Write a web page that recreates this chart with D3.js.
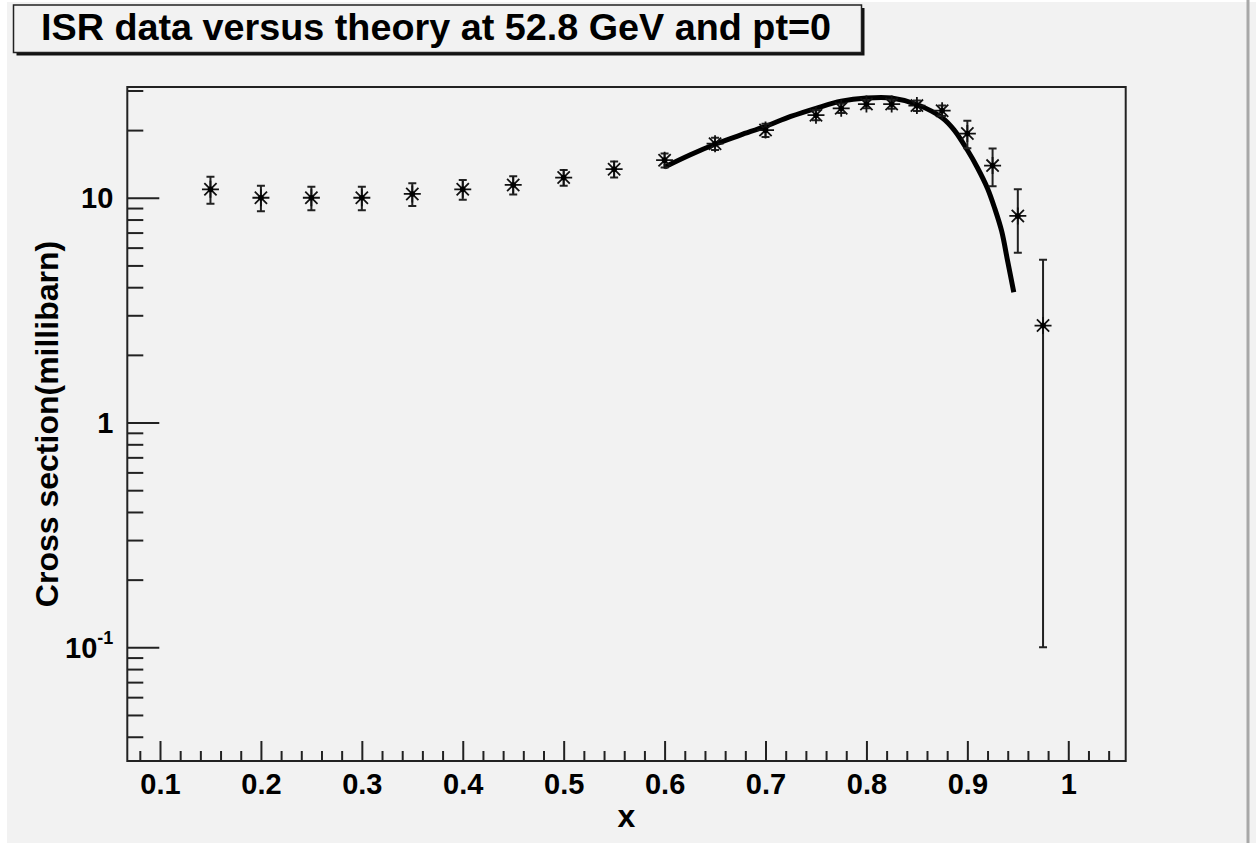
<!DOCTYPE html>
<html>
<head>
<meta charset="utf-8">
<script src="https://cdn.jsdelivr.net/npm/d3@7"></script>
<style>
  html, body { margin: 0; padding: 0; background: #ffffff; }
  svg { display: block; font-family: "Liberation Sans", Arial, sans-serif; font-weight: bold; }
</style>
</head>
<body>
<div id="chart"></div>
<script>
const titleText = "ISR data versus theory at 52.8 GeV and pt=0";
const xTitle = "x";
const yTitle = "Cross section(millibarn)";

// measured points
const dataX = [0.15, 0.2, 0.25, 0.3, 0.35, 0.4, 0.45, 0.5, 0.55, 0.6, 0.65, 0.7,
  0.75, 0.775, 0.8, 0.825, 0.85, 0.875, 0.9, 0.925, 0.95, 0.975];
const dataY = [10.9, 10.0, 10.0, 10.0, 10.4, 10.9, 11.4, 12.3, 13.4, 14.7, 17.4, 20.0,
  23.3, 25.0, 26.1, 26.1, 25.7, 24.4, 19.3, 13.9, 8.3, 2.7];
const dataErr = [1.5, 1.3, 1.2, 1.2, 1.2, 1.1, 1.05, 1.0, 1.1, 1.05, 1.1, 1.35,
  1.2, 1.2, 1.1, 1.2, 1.4, 1.3, 2.7, 2.65, 2.6, 2.6];

// theory curve
const theoryX = [0.6, 0.625, 0.65, 0.675, 0.7, 0.725, 0.75, 0.775, 0.8, 0.825, 0.85,
  0.875, 0.887, 0.9, 0.91, 0.92, 0.927, 0.934, 0.94, 0.946];
const theoryY = [13.7, 15.5, 17.3, 19.0, 20.8, 23.0, 25.0, 26.9, 27.8, 27.8, 26.0,
  22.7, 20.0, 16.3, 13.6, 11.0, 9.0, 7.1, 5.2, 3.8];

// axes
const xDomain = [0.0676, 1.0569];
const yDomain = [0.0312, 31.1];
const xMajorTicks = [0.1, 0.2, 0.3, 0.4, 0.5, 0.6, 0.7, 0.8, 0.9, 1];
const xMinorTicks = [0.08, 0.12, 0.14, 0.16, 0.18, 0.22, 0.24, 0.26, 0.28, 0.32, 0.34,
  0.36, 0.38, 0.42, 0.44, 0.46, 0.48, 0.52, 0.54, 0.56, 0.58, 0.62, 0.64, 0.66, 0.68,
  0.72, 0.74, 0.76, 0.78, 0.82, 0.84, 0.86, 0.88, 0.92, 0.94, 0.96, 0.98, 1.02, 1.04];
const yMajorTicks = [0.1, 1, 10];
const yMajorLabels = [["10", "-1"], ["1", ""], ["10", ""]];
const yMinorTicks = [0.04, 0.05, 0.06, 0.07, 0.08, 0.09, 0.2, 0.3, 0.4, 0.5, 0.6, 0.7,
  0.8, 0.9, 2, 3, 4, 5, 6, 7, 8, 9, 20, 30];

class IsrChart {
  constructor({ el }) {
    this.el = el;
    this.init();
  }

  init() {
    this.width = 1256;
    this.height = 843;
    this.frame = { left: 127.3, right: 1125.7, top: 87, bottom: 761 };

    this.x = d3.scaleLinear().domain(xDomain).range([this.frame.left, this.frame.right]);
    this.y = d3.scaleLog().domain(yDomain).range([this.frame.bottom, this.frame.top]);

    this.svg = d3.select(this.el).append("svg")
      .attr("width", this.width)
      .attr("height", this.height)
      .attr("viewBox", [0, 0, this.width, this.height]);

    this.render();
  }

  render() {
    this.renderCanvas();
    this.renderTitle();
    this.renderAxes();
    this.renderTheory();
    this.renderPoints();
  }

  renderCanvas() {
    this.svg.append("rect")
      .attr("x", 7).attr("y", 2)
      .attr("width", this.width - 7).attr("height", this.height - 2)
      .attr("fill", "#f2f2f2");
    this.svg.append("line")
      .attr("x1", 1248).attr("x2", 1248)
      .attr("y1", 0).attr("y2", this.height)
      .attr("stroke", "#a8a8a8").attr("stroke-width", 3);
  }

  renderTitle() {
    const g = this.svg.append("g");
    // shadow
    g.append("rect")
      .attr("x", 16.5).attr("y", 8)
      .attr("width", 848).attr("height", 47.5)
      .attr("fill", "#111");
    g.append("rect")
      .attr("x", 13.5).attr("y", 5)
      .attr("width", 848).attr("height", 47.5)
      .attr("fill", "#f2f2f2")
      .attr("stroke", "#222").attr("stroke-width", 1.5);
    g.append("text")
      .attr("x", 41).attr("y", 40)
      .attr("font-size", 37)
      .attr("textLength", 790)
      .attr("lengthAdjust", "spacingAndGlyphs")
      .attr("fill", "#000")
      .text(titleText);
  }

  renderAxes() {
    const { left, right, top, bottom } = this.frame;

    const xMinor = d3.axisBottom(this.x).tickValues(xMinorTicks).tickSize(-10).tickFormat("");
    const xMajor = d3.axisBottom(this.x).tickValues(xMajorTicks).tickSize(-20).tickPadding(12)
      .tickFormat(d3.format("~g"));
    const yMinor = d3.axisLeft(this.y).tickValues(yMinorTicks).tickSize(-16).tickFormat("");
    const yMajor = d3.axisLeft(this.y).tickValues(yMajorTicks).tickSize(-32).tickFormat("");

    const gx = this.svg.append("g").attr("transform", `translate(0,${bottom})`);
    gx.append("g").call(xMinor);
    gx.append("g").call(xMajor)
      .call((g) => g.selectAll("text")
        .attr("font-size", 29)
        .attr("font-family", "Liberation Sans, Arial, sans-serif")
        .attr("font-weight", "bold")
        .attr("fill", "#000"));

    const gy = this.svg.append("g").attr("transform", `translate(${left},0)`);
    gy.append("g").call(yMinor);
    gy.append("g").call(yMajor);

    this.svg.selectAll(".domain").remove();
    this.svg.selectAll(".tick line").attr("stroke", "#222").attr("stroke-width", 2);

    // y labels with superscript exponent
    const label = this.svg.append("g")
      .selectAll("text")
      .data(yMajorTicks.map((v, i) => [v, yMajorLabels[i]]))
      .join("text")
      .attr("x", left - 14)
      .attr("y", ([v]) => this.y(v))
      .attr("dy", "0.36em")
      .attr("text-anchor", "end")
      .attr("font-size", 29)
      .attr("fill", "#000");
    label.append("tspan").text(([, l]) => l[0]);
    label.filter(([, l]) => l[1] !== "")
      .append("tspan")
      .attr("font-size", 18)
      .attr("dy", "-0.75em")
      .text(([, l]) => l[1]);

    // frame
    this.svg.append("rect")
      .attr("x", left).attr("y", top)
      .attr("width", right - left).attr("height", bottom - top)
      .attr("fill", "none")
      .attr("stroke", "#222").attr("stroke-width", 2);

    // axis titles
    this.svg.append("text")
      .attr("x", (left + right) / 2).attr("y", 827)
      .attr("text-anchor", "middle")
      .attr("font-size", 32)
      .attr("fill", "#000")
      .text(xTitle);
    this.svg.append("text")
      .attr("transform", `translate(58,${(top + bottom) / 2}) rotate(-90)`)
      .attr("text-anchor", "middle")
      .attr("font-size", 32)
      .attr("fill", "#000")
      .text(yTitle);
  }

  renderTheory() {
    const pts = theoryX.map((v, i) => [v, theoryY[i]]);
    const line = d3.line()
      .x((d) => this.x(d[0]))
      .y((d) => this.y(d[1]))
      .curve(d3.curveCatmullRom);
    this.svg.append("path")
      .attr("d", line(pts))
      .attr("fill", "none")
      .attr("stroke", "#000")
      .attr("stroke-width", 5);
  }

  renderPoints() {
    const pts = dataX.map((v, i) => ({ x: v, y: dataY[i], e: dataErr[i] }));
    const cap = 4;
    const r = 8.5;
    const rd = r * 0.72;

    const g = this.svg.append("g")
      .selectAll("g")
      .data(pts)
      .join("g")
      .attr("transform", (d) => `translate(${this.x(d.x)},0)`);

    g.append("path")
      .attr("d", (d) => {
        const y0 = this.y(Math.max(d.y - d.e, yDomain[0]));
        const y1 = this.y(d.y + d.e);
        return `M0,${y0}V${y1}M${-cap},${y0}H${cap}M${-cap},${y1}H${cap}`;
      })
      .attr("fill", "none")
      .attr("stroke", "#222")
      .attr("stroke-width", 2);

    g.append("path")
      .attr("transform", (d) => `translate(0,${this.y(d.y)})`)
      .attr("d", `M${-r},0H${r}M0,${-r}V${r}M${-rd},${-rd}L${rd},${rd}M${-rd},${rd}L${rd},${-rd}`)
      .attr("fill", "none")
      .attr("stroke", "#111")
      .attr("stroke-width", 1.8);

    g.append("circle")
      .attr("cy", (d) => this.y(d.y))
      .attr("r", 2.8)
      .attr("fill", "#000");
  }
}

new IsrChart({ el: document.getElementById("chart") });
</script>
</body>
</html>
